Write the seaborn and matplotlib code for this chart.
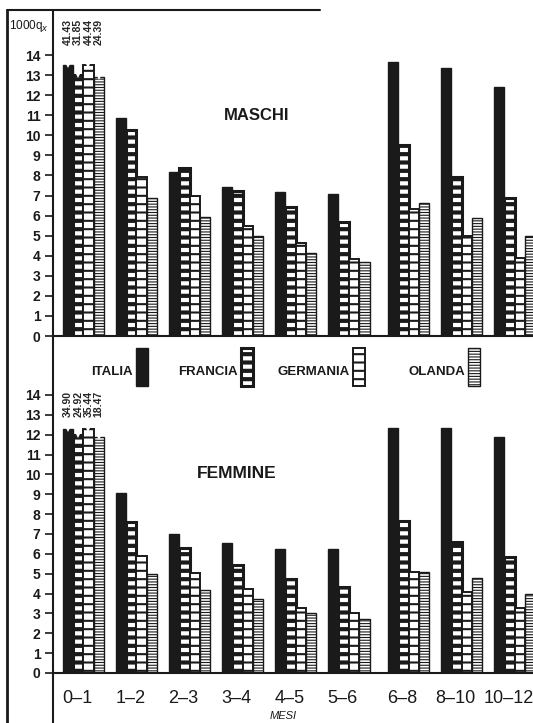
import matplotlib
matplotlib.use('Agg')
import matplotlib.pyplot as plt
import matplotlib.transforms as mtransforms
from matplotlib.patches import Rectangle
import numpy as np
import pandas as pd
import seaborn as sns

mesi = ['0–1', '1–2', '2–3', '3–4', '4–5', '5–6', '6–8', '8–10', '10–12']
paesi = ['ITALIA', 'FRANCIA', 'GERMANIA', 'OLANDA']

maschi_italia = [41.43, 10.86, 8.19, 7.44, 7.19, 7.06, 13.67, 13.37, 12.42]
maschi_francia = [31.85, 10.26, 8.35, 7.24, 6.41, 5.66, 9.52, 7.91, 6.89]
maschi_germania = [44.44, 7.94, 6.98, 5.48, 4.65, 3.84, 6.31, 4.98, 3.87]
maschi_olanda = [24.39, 6.88, 5.95, 5.00, 4.15, 3.70, 6.61, 5.86, 4.98]

femmine_italia = [34.90, 9.05, 6.98, 6.53, 6.24, 6.22, 12.34, 12.34, 11.90]
femmine_francia = [24.92, 7.59, 6.28, 5.44, 4.72, 4.35, 7.65, 6.61, 5.83]
femmine_germania = [35.44, 5.91, 5.05, 4.23, 3.29, 3.04, 5.07, 4.06, 3.26]
femmine_olanda = [18.47, 4.98, 4.18, 3.73, 3.04, 2.72, 5.10, 4.77, 3.98]

# off-scale bars (first class) are drawn broken at these heights
maschi_taglio = [13.5, 13.0, 13.5, 12.9]
femmine_taglio = [12.3, 12.0, 12.3, 11.9]

INK = '#1a1a1a'
stili = {
    'ITALIA': dict(fc=INK, ec=INK, hatch=None, lw=1.0, hlw=1.0),
    'FRANCIA': dict(fc='white', ec=INK, hatch='--', lw=2.2, hlw=3.0),
    'GERMANIA': dict(fc='white', ec=INK, hatch='--', lw=1.4, hlw=1.5),
    'OLANDA': dict(fc='white', ec=INK, hatch='------', lw=1.0, hlw=0.8),
}

# extra gap before the two-month classes
idx = np.arange(len(mesi))
xpos = idx + np.where(idx >= 6, 0.125, 0.0)


def stile_patch(p, st):
    p.set_facecolor(st['fc'])
    p.set_edgecolor(st['ec'])
    p.set_linewidth(st['lw'])
    if st['hatch']:
        p.set_hatch(st['hatch'])
        if hasattr(p, 'set_hatch_linewidth'):
            p.set_hatch_linewidth(st['hlw'])


def pannello(ax, valori, taglio, ytop, annot_y):
    righe = []
    for j, paese in enumerate(paesi):
        for i, v in enumerate(valori[j]):
            righe.append({'pos': xpos[i], 'paese': paese, 'valore': v,
                          'altezza': v if v <= 14 else taglio[j]})
    df = pd.DataFrame(righe)
    sns.barplot(data=df, x='pos', y='altezza', hue='paese', hue_order=paesi,
                native_scale=True, width=0.78, gap=0, errorbar=None,
                legend=False, ax=ax)
    for j, (paese, cont) in enumerate(zip(paesi, ax.containers)):
        for bar in cont:
            stile_patch(bar, stili[paese])
        primo = min(cont, key=lambda b: b.get_x())
        xc = primo.get_x() + primo.get_width() / 2
        v = valori[j][0]
        if v > 14:
            ax.plot(xc, primo.get_height(), marker='v', color='white',
                    ms=5, mew=0, zorder=5, clip_on=False)
            ax.text(xc, annot_y, f'{v:.2f}', rotation=90, ha='center',
                    va='bottom', fontsize=7.5, fontweight='bold',
                    clip_on=False)
    ax.set_xlim(-0.571, 8.469)
    ax.set_ylim(0, ytop)
    ax.set_yticks(range(15))
    ax.set_yticklabels([str(t) for t in range(15)], fontweight='bold')
    ax.tick_params(axis='y', left=True, direction='out', length=6,
                   width=1.2, pad=3, labelsize=10, colors=INK)
    ax.tick_params(axis='x', length=0)
    ax.set_xlabel('')
    ax.set_ylabel('')
    for s in ['top', 'right', 'left']:
        ax.spines[s].set_visible(False)
    ax.spines['bottom'].set_color(INK)
    ax.spines['bottom'].set_linewidth(1.5)


sns.set_theme(style='white')
plt.rcParams['font.family'] = ['Liberation Sans', 'DejaVu Sans']

W, H = 533, 723
fig = plt.figure(figsize=(W / 100, H / 100), dpi=100)

ax1 = fig.add_axes([53 / W, (H - 336) / H, (W - 53) / W, 326 / H])
ax2 = fig.add_axes([53 / W, (H - 673) / H, (W - 53) / W, 281 / H])

pannello(ax1, [maschi_italia, maschi_francia, maschi_germania, maschi_olanda],
         maschi_taglio, 326 / 20.07, 14.5)
pannello(ax2, [femmine_italia, femmine_francia, femmine_germania,
               femmine_olanda], femmine_taglio, 281 / 19.86, 12.9)

ax1.set_xticks([])
ax2.set_xticks(xpos)
ax2.set_xticklabels(mesi, fontsize=13, color=INK)
ax2.tick_params(axis='x', pad=12)
shift = mtransforms.ScaledTranslation(-6 / 100, 0, fig.dpi_scale_trans)
for lab in ax2.get_xticklabels():
    lab.set_transform(lab.get_transform() + shift)

# overlay in pixel coordinates for frame, titles and legend
lax = fig.add_axes([0, 0, 1, 1])
lax.patch.set_alpha(0)
lax.axis('off')
lax.set_xlim(0, W)
lax.set_ylim(H, 0)

lax.plot([53, 53], [10, H], color=INK, lw=1.5)
lax.plot([7, 7], [10, H], color=INK, lw=2)
lax.plot([7, 320], [10, 10], color=INK, lw=1.5)

lax.text(9, 26, '1000q$_x$', fontsize=8.5, ha='left', va='center', color=INK)
lax.text(257, 115, 'MASCHI', fontsize=12, fontweight='bold',
         ha='center', va='center', color=INK)
lax.text(237, 474, 'FEMMINE', fontsize=12.5, fontweight='bold',
         ha='center', va='center', color=INK)
lax.text(283, 716, 'MESI', fontsize=8, style='italic',
         ha='center', va='center', color=INK)

leg_text_x = [133, 238, 350, 465]
leg_box_x = [136, 241, 353, 468]
for paese, tx, bx in zip(paesi, leg_text_x, leg_box_x):
    lax.text(tx, 372, paese, fontsize=9.5, fontweight='bold',
             ha='right', va='center', color=INK)
    r = Rectangle((bx, 348), 12, 38)
    stile_patch(r, stili[paese])
    lax.add_patch(r)

fig.savefig('out.png', dpi=100)
